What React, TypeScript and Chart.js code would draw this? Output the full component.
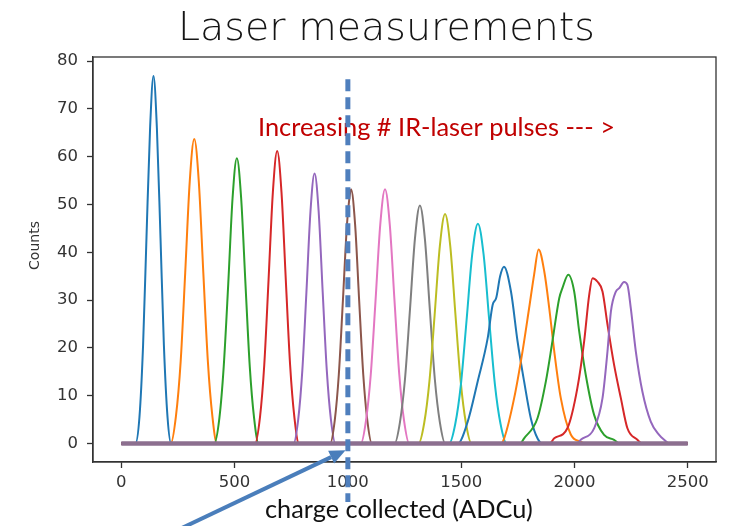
import React, { useEffect, useRef } from "react";
import { Chart, registerables } from "chart.js";

Chart.register(...registerables);

// ---------- data ----------
const xTicks = [0, 500, 1000, 1500, 2000, 2500];
const yTicks = [0, 10, 20, 30, 40, 50, 60, 70, 80];
const xLimits = [-125, 2625];
const yLimits = [-3.85, 80.85];
const adcRange = [0, 2500];
const markerAdc = 1000;
const markerSpan = [76.2, -12.2];
const arrowTail = [132, -20.7];
const arrowTip = [990, -1.4];

const tab10 = [
  "#1f77b4", "#ff7f0e", "#2ca02c", "#d62728", "#9467bd",
  "#8c564b", "#e377c2", "#7f7f7f", "#bcbd22", "#17becf",
];

const pulses01 = [[0,0],[62,0],[80,5.5],[96,20.5],[111,43],[127,66],[142,76.9],[157,66],[173,43],[188,20.5],[204,5.5],[220,0],[2500,0]];
const pulses02 = [[0,0],[218,0],[241,5.7],[262,17.2],[282,35.7],[302,54.8],[322,63.7],[342,54.8],[362,35.7],[382,17.2],[402,5.7],[422,0],[2500,0]];
const pulses03 = [[0,0],[410,0],[433,5.4],[452,16.1],[472,33.4],[491,51.3],[510,59.7],[529,51.3],[548,33.4],[567,16.1],[586,5.4],[606,0],[2500,0]];
const pulses04 = [[0,0],[590,0],[612,5.5],[631,16.5],[650,34.3],[669,52.6],[688,61.2],[707,52.6],[726,34.3],[745,16.5],[764,5.5],[784,0],[2500,0]];
const pulses05 = [[0,0],[760,0],[781,5.1],[799,15.3],[817,31.6],[835,48.6],[853,56.5],[871,48.6],[889,31.6],[907,15.3],[925,5.1],[945,0],[2500,0]];
const pulses06 = [[0,0],[922,0],[942,4.8],[960,14.4],[978,29.8],[996,45.8],[1006,51],[1014,53.2],[1032,45.8],[1050,29.8],[1068,14.4],[1086,4.8],[1106,0],[2500,0]];
const pulses07 = [[0,0],[1057,0],[1080,4.8],[1101,14.4],[1122,29.8],[1143,45.8],[1164,53.2],[1185,45.8],[1206,29.8],[1227,14.4],[1248,4.8],[1271,0],[2500,0]];
const pulses08 = [[0,0],[1206,0],[1230,4.5],[1252,13.4],[1274,27.9],[1296,42.8],[1318,49.8],[1340,42.8],[1362,27.9],[1384,13.4],[1406,4.5],[1430,0],[2500,0]];
const pulses09 = [[0,0],[1312,0],[1337,4.3],[1360,13],[1383,26.9],[1406,41.3],[1429,48],[1452,41.3],[1475,26.9],[1498,13],[1521,4.3],[1546,0],[2500,0]];
const pulses10 = [[0,0],[1447,0],[1474,4.1],[1499,12.4],[1524,25.8],[1549,39.6],[1574,46],[1599,39.6],[1624,25.8],[1649,12.4],[1674,4.1],[1701,0],[2500,0]];
const pulses11 = [[0,0],[1485,0],[1529,4.6],[1573,13],[1617,22],[1639,29],[1655,30.5],[1672,35],[1689,37],[1720,31.8],[1749,21.4],[1778,13],[1808,5.2],[1838,1],[1860,0],[2500,0]];
const pulses12 = [[0,0],[1675,0],[1690,1.1],[1734,9.5],[1771,19.3],[1800,28.3],[1822,35.3],[1842,40.6],[1867,36],[1889,28.3],[1911,19.3],[1940,9.5],[1984,1.9],[2028,0.4],[2050,0],[2500,0]];
const pulses13 = [[0,0],[1760,0],[1778,1.1],[1837,5.3],[1874,13],[1903,21.4],[1933,30.4],[1947,32.5],[1973,35.3],[1999,31.8],[2021,23.5],[2050,14.4],[2087,6],[2131,1.8],[2175,0.8],[2200,0],[2500,0]];
const pulses14 = [[0,0],[1890,0],[1911,1.1],[1969,3.2],[2013,11.6],[2043,21.4],[2065,31],[2080,34.6],[2101,33.9],[2124,31.8],[2146,24.9],[2175,16.5],[2205,9.5],[2234,3.2],[2278,0.8],[2300,0],[2500,0]];
const pulses15 = [[0,0],[2010,0],[2028,0.8],[2087,3.2],[2124,9.5],[2146,19.3],[2161,27.6],[2183,31.8],[2198,32.5],[2219,33.8],[2234,33.2],[2249,28.3],[2271,19.3],[2300,10.9],[2337,4.6],[2374,1.8],[2396,0.8],[2420,0],[2500,0]];

const allPulses = [
  pulses01, pulses02, pulses03, pulses04, pulses05, pulses06, pulses07, pulses08,
  pulses09, pulses10, pulses11, pulses12, pulses13, pulses14, pulses15,
];

const titleText = "Laser measurements";
const noteText = "Increasing # IR-laser pulses --- >";
const xLabelText = "charge collected (ADCu)";
const yLabelText = "Counts";

// ---------- drawing helpers ----------
function fitText(ctx: CanvasRenderingContext2D, text: string, family: string, weight: string,
  left: number, right: number, baseline: number, color: string) {
  ctx.font = `${weight} 28px ${family}`;
  const w = ctx.measureText(text).width;
  const size = (28 * (right - left)) / w;
  ctx.font = `${weight} ${size}px ${family}`;
  ctx.fillStyle = color;
  ctx.textAlign = "left";
  ctx.textBaseline = "alphabetic";
  ctx.fillText(text, left, baseline);
}

const annotations = {
  id: "slideAnnotations",
  afterDraw(chart: any) {
    const { ctx, chartArea: a, scales } = chart;
    const xs = scales.x;
    const ys = scales.y;
    ctx.save();
    // frame (matplotlib spines)
    ctx.strokeStyle = "#333333";
    ctx.lineWidth = 1.3;
    ctx.strokeRect(a.left, a.top, a.right - a.left, a.bottom - a.top);

    // y label
    ctx.save();
    ctx.translate(35, (a.top + a.bottom) / 2 - 14);
    ctx.rotate(-Math.PI / 2);
    ctx.font = "14px 'DejaVu Sans'";
    ctx.fillStyle = "#333333";
    ctx.textAlign = "center";
    ctx.textBaseline = "middle";
    ctx.fillText(yLabelText, 0, 0);
    ctx.restore();

    // slide texts
    fitText(ctx, titleText, "'DejaVu Sans'", "200", 178, 595, 40, "#151515");
    fitText(ctx, noteText, "Lato, 'Liberation Sans', sans-serif", "400", 258, 615, 136, "#c00000");
    fitText(ctx, xLabelText, "Lato, 'Liberation Sans', sans-serif", "400", 265, 533, 518, "#111111");

    // dashed marker
    const mx = xs.getPixelForValue(markerAdc);
    ctx.strokeStyle = "#4f7fbd";
    ctx.lineWidth = 5;
    ctx.setLineDash([12, 6]);
    ctx.beginPath();
    ctx.moveTo(mx, ys.getPixelForValue(markerSpan[0]));
    ctx.lineTo(mx, ys.getPixelForValue(markerSpan[1]));
    ctx.stroke();
    ctx.setLineDash([]);

    // arrow
    const tx = xs.getPixelForValue(arrowTail[0]);
    const ty = ys.getPixelForValue(arrowTail[1]);
    const hx = xs.getPixelForValue(arrowTip[0]);
    const hy = ys.getPixelForValue(arrowTip[1]);
    const ang = Math.atan2(hy - ty, hx - tx);
    const headLen = 16;
    const headHalf = 7;
    const bx = hx - headLen * Math.cos(ang);
    const by = hy - headLen * Math.sin(ang);
    ctx.strokeStyle = "#4a7ebb";
    ctx.fillStyle = "#4a7ebb";
    ctx.lineWidth = 4;
    ctx.beginPath();
    ctx.moveTo(tx, ty);
    ctx.lineTo(bx, by);
    ctx.stroke();
    ctx.beginPath();
    ctx.moveTo(hx, hy);
    ctx.lineTo(bx + headHalf * Math.sin(ang), by - headHalf * Math.cos(ang));
    ctx.lineTo(bx - headHalf * Math.sin(ang), by + headHalf * Math.cos(ang));
    ctx.closePath();
    ctx.fill();
    ctx.restore();
  },
};

export default function App() {
  const ref = useRef<HTMLCanvasElement | null>(null);

  useEffect(() => {
    if (!ref.current) return;
    const tickFont = { family: "'DejaVu Sans'", size: 16.5 };
    const datasets: any[] = [
      {
        label: "zero bins",
        data: adcRange.map((x) => ({ x, y: 0 })),
        borderColor: "#8c6f8f",
        borderWidth: 4.5,
        pointRadius: 0,
        order: 0,
      },
      ...allPulses.map((pts, i) => ({
        label: `pulses ${i + 1}`,
        data: pts.map(([x, y]) => ({ x, y })),
        borderColor: tab10[i % 10],
        borderWidth: 2,
        pointRadius: 0,
        cubicInterpolationMode: "monotone",
        order: allPulses.length - i,
      })),
    ];
    const chart = new Chart(ref.current, {
      type: "line",
      data: { datasets },
      options: {
        animation: false,
        responsive: false,
        parsing: true,
        layout: { padding: { left: 0, top: 57, right: 32, bottom: 0 } },
        plugins: { legend: { display: false }, tooltip: { enabled: false }, title: { display: false } },
        scales: {
          x: {
            type: "linear",
            min: xLimits[0],
            max: xLimits[1],
            afterBuildTicks: (ax: any) => { ax.ticks = xTicks.map((v) => ({ value: v })); },
            afterFit: (ax: any) => { ax.height = 64; },
            ticks: { font: tickFont, color: "#333333", padding: 5, maxRotation: 0, autoSkip: false, callback: (v: any) => String(v) },
            grid: { display: true, drawOnChartArea: false, drawTicks: true, tickLength: 6, tickColor: "#333333", tickWidth: 1.3 },
            border: { display: true, color: "#333333", width: 1.3 },
          },
          y: {
            type: "linear",
            min: yLimits[0],
            max: yLimits[1],
            afterBuildTicks: (ax: any) => { ax.ticks = yTicks.map((v) => ({ value: v })); },
            afterFit: (ax: any) => { ax.width = 93; },
            ticks: { font: tickFont, color: "#333333", padding: 9, autoSkip: false, callback: (v: any) => String(v) },
            grid: { display: true, drawOnChartArea: false, drawTicks: true, tickLength: 6, tickColor: "#333333", tickWidth: 1.3 },
            border: { display: true, color: "#333333", width: 1.3 },
          },
        },
      },
      plugins: [annotations],
    } as any);
    return () => chart.destroy();
  }, []);

  return (
    <div style={{ position: "absolute", left: 0, top: 0, width: 748, height: 526, background: "#ffffff" }}>
      <canvas ref={ref} width={748} height={526} style={{ display: "block" }} />
    </div>
  );
}
